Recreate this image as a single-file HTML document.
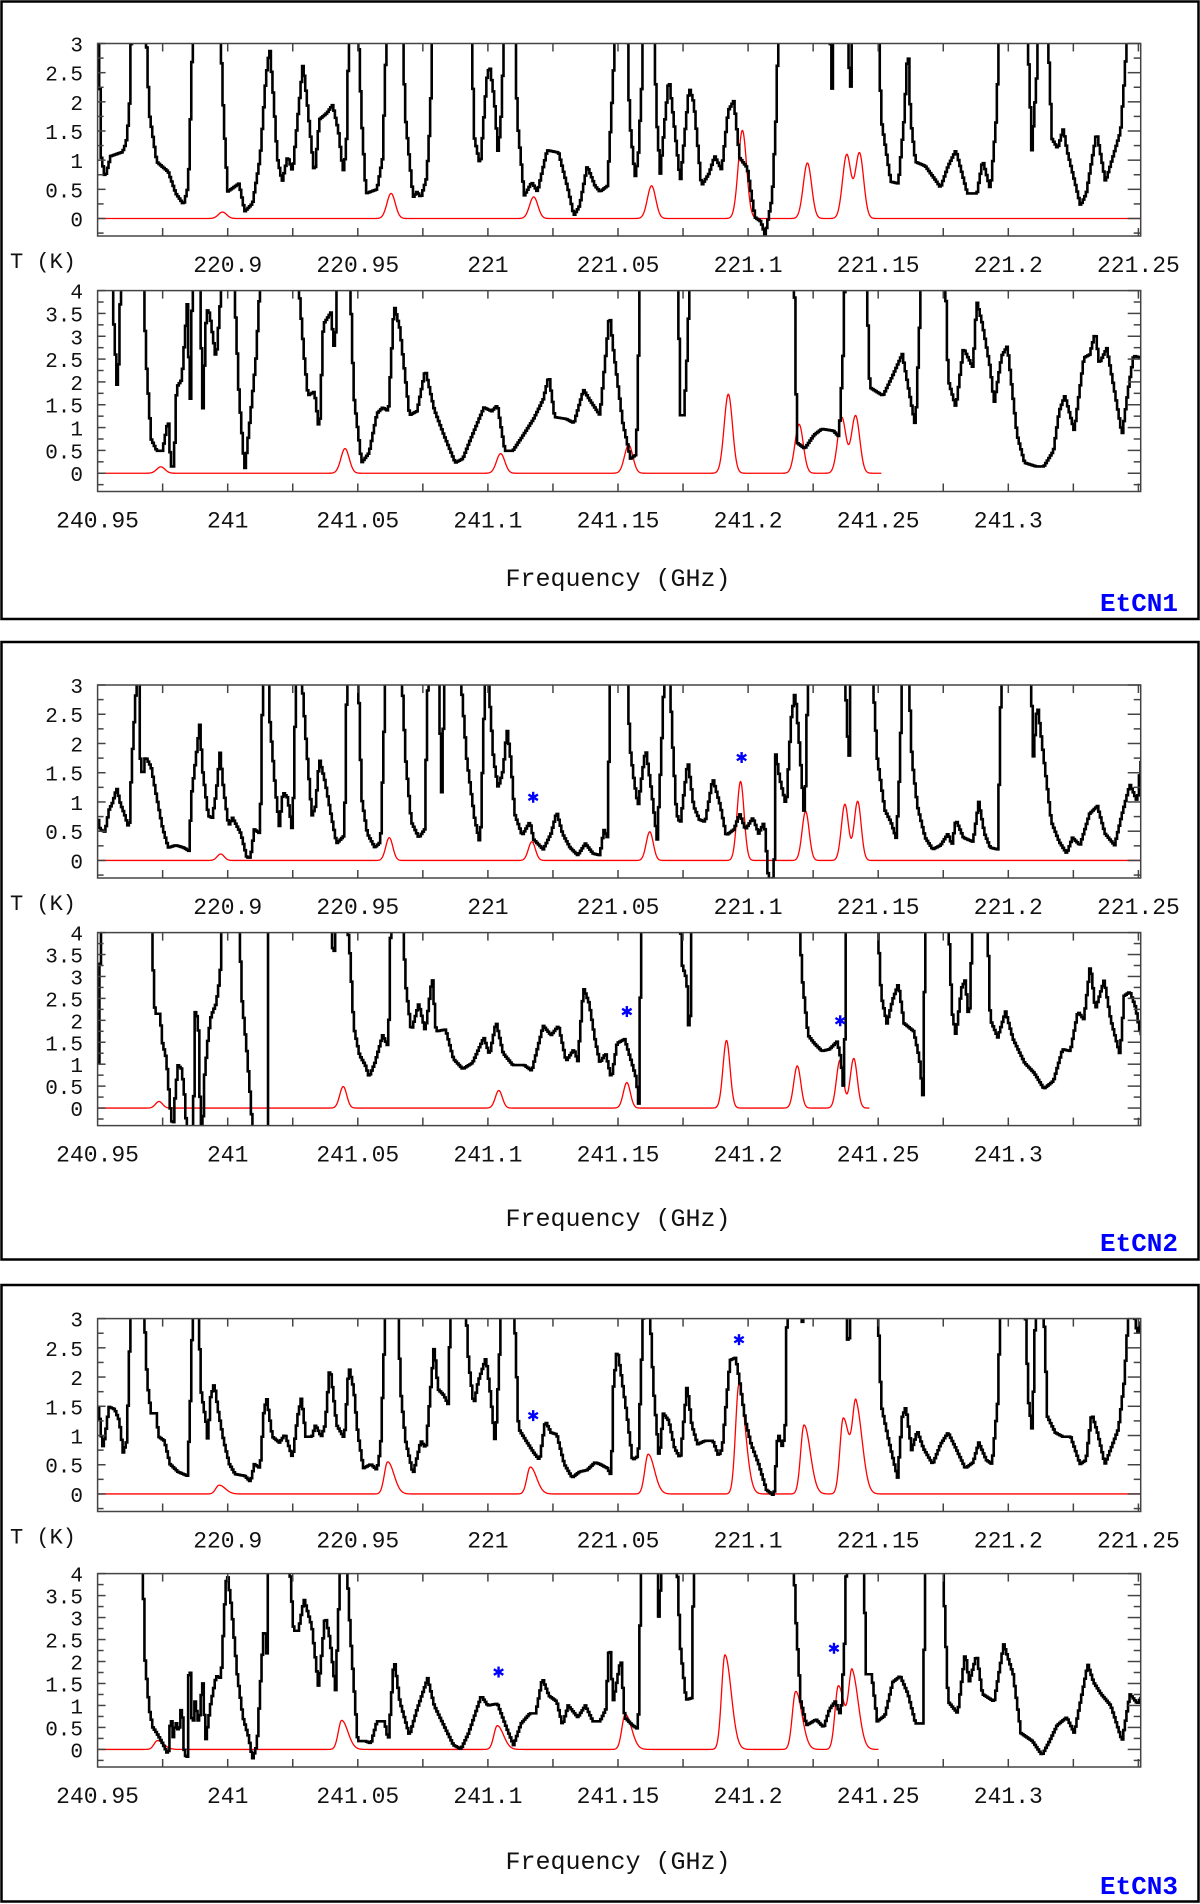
<!DOCTYPE html>
<html><head><meta charset="utf-8"><title>EtCN spectra</title>
<style>
html,body{margin:0;padding:0;background:#fff;}
svg{display:block;}
text{font-family:"Liberation Mono",monospace;}
</style></head>
<body>
<svg id="chart" width="1200" height="1904" viewBox="0 0 1200 1904" xmlns="http://www.w3.org/2000/svg"></svg>
<script>
// ---------- data: frequency offsets in MHz from axis start (220850 MHz / 240950 MHz), T in K ----------
const etcn1LowFreq = [
0,0.4,1.5,2.9,5.1,9.6,11,12.2,13.2,18.4,
19.9,22.8,27.2,30.1,33.1,34.9,35.7,36.8,47,48.5,
50,54.4,56.6,59.6,62.5,64.7,66.2,67.6,69.1,71,
73.1,75,76.9,79,80.9,83.4,85.3,88.2,90.4,92.6,
94.4,95.6,96.8,100,101.5,103.2,107.4,109.6,111.3,116.9,
118.4,121.3,122.8,124.3,126.5,127.9,128.9,143.4,144.9,147.1,
149.6,150.7,152.5,154,155.4,156.3,160.3,161.3,164,166.9,
169.1,172.8,177.2,180.9,183.1,185.3,188.2,191.2,193.1,196,
198.2,199,203.4,204.5,206.6,207.8,209.3,210,213.7,214.9,
216.3,218.1,219.6,221.4,224,227.4,229.2,232.1,235,237.2,
239.9,242.4,244.6,246.8,249.7,252.7,254.9,256.6,259.3,261.1,
261.6,281.3,282.4,283.1,288.4,289.3,290.1,300.1,301.2,304.9,
307.8,310,311.5,312.5,314.4,318.1,322.5,324,326.9,329.9,
334.3,338,340.2,343.2,345.4,346.9,357.2,359.1,360.9,361.6,
365,366.8,369,371.2,372.6,375.6,377.8,380,384,387.4,
391,393.2,394.7,396.2,401];
const etcn1LowT = [
3.5,3.2,1.04,0.7,1.07,1.14,1.3,1.8,3.5,3.5,
1.8,0.97,0.8,0.43,0.24,0.56,1.7,3.5,3.5,1.7,
0.46,0.6,0.12,0.26,1.04,2.4,2.93,2.1,1.04,0.63,
1.07,0.8,1.7,2.66,1.85,0.73,1.7,1.81,1.95,1.5,
0.8,1.17,3.5,3.5,1.7,0.43,0.5,1.04,3.5,3.5,
1.7,0.36,0.46,0.36,0.7,1.7,3.5,3.5,1.37,0.9,
2.39,2.63,2.05,1.1,1.92,3.5,3.5,1.7,0.39,0.62,
0.46,1.17,1.13,0.49,0.05,0.22,0.9,0.56,0.46,0.56,
2.4,3.5,3.5,1.7,0.7,1.04,2.4,3.5,3.5,1.7,
0.77,1.7,2.42,1.7,0.63,2.25,1.98,0.56,0.77,1.07,
0.83,1.85,2.02,1.04,0.87,0.02,-0.05,-0.28,0.36,2.03,
3.5,3.5,2.1,3.5,3.5,1.85,3.5,3.5,1.7,0.63,
0.6,1.7,3.0,1.7,0.97,0.9,0.63,0.53,0.9,1.17,
0.43,0.43,1.0,0.49,1.7,3.5,3.5,1.17,2.4,3.5,
3.5,1.37,1.2,1.54,1.17,0.63,0.22,0.43,1.48,0.63,
1.17,1.5,2.4,3.5,3.5];

const etcn1HighFreq = [
0,6.0,6.3,7.6,8.5,9,17.8,18.4,20.6,22.8,
25,27.2,28.2,29.4,30.4,32.4,34.6,35.6,36.5,39.4,
40.4,41.9,43.1,45.6,47.8,52.5,54.4,56.6,58.8,61,
62.5,77.2,79.4,80.9,83.4,85.3,86.8,89.7,91.2,92.2,
97.1,98.5,101.5,104.4,107.4,109.6,111.8,114,116.2,119.9,
122.8,126,129.4,133.1,137.5,140.4,143.4,148.5,151.5,153.7,
156.6,159.6,163.2,167.6,171.3,173.5,175.7,180.1,183.1,186.8,
189,193.1,195.3,196.8,198.2,201.9,204.9,207.1,208.5,223.2,
223.9,225.4,226.6,227.6,267.8,268.8,271.8,275.4,278.4,282.8,
285,286.5,287.2,295.6,296.8,299,301.9,305.6,309.3,312.2,
314.4,316.6,325.9,326.9,329.9,332.8,336.5,337.9,340.1,343.1,
344.6,347.5,349.7,353.4,356.3,360.7,363.7,367.4,369.6,371.8,
375.4,379.1,381.3,383.5,385,387.9,390.9,393.8,396,398.2,
401];
const etcn1HighT = [
5,5,3.26,1.83,2.83,5,5,2.74,0.75,0.49,
0.49,1.19,0.15,0.15,1.88,2.05,3.78,1.31,4.2,4.2,
1.27,3.6,3.5,2.48,4.2,4.2,1.7,0.06,1.27,2.57,
4.2,4.2,2.57,1.7,1.79,0.88,3.26,3.52,2.61,4.2,
4.2,1.7,0.23,0.45,1.31,1.44,1.36,3.69,3.17,1.27,
1.36,2.27,1.4,0.84,0.23,0.32,0.75,1.44,1.36,1.49,
0.49,0.49,0.8,1.19,1.62,2.14,1.23,1.19,1.1,1.83,
1.62,1.27,2.57,3.52,2.74,1.1,0.32,0.41,4.2,4.2,
1.27,1.27,2.57,4.2,4.2,0.67,0.54,0.84,0.97,0.93,
0.8,2.57,4.2,4.2,1.88,1.8,1.7,2.14,2.61,1.7,
1.01,4.2,4.2,2.05,1.44,2.74,2.31,3.78,3.26,2.31,
1.53,2.57,2.79,0.84,0.23,0.15,0.15,0.49,1.36,1.7,
0.93,2.53,2.6,3.09,2.4,2.74,1.79,0.84,1.79,2.57,
2.53];

const etcn2LowFreq = [
0,1.0,2.9,4.4,5.9,7.4,8.8,10.3,12.2,13.2,
14.7,15.7,16.5,17.4,18.4,20.6,22.8,25,27.2,30.1,
33.1,35.3,36,37.8,39.3,40.4,42.6,44.1,45.6,47.1,
48.5,50.4,51.9,55.1,57.4,58.8,60.3,62.5,63.7,65.4,
66.2,68.4,69.9,71.3,73.1,75,76.5,77.9,80.1,82.4,
83.8,85.3,87.5,89.7,91.9,94.9,96,100,101.5,103.7,
106.6,108.8,111,116.6,118.4,120.6,123.5,125.7,127.2,130.9,
132.4,133.4,139,141.9,144.9,147.1,148.5,149.6,150.7,152.2,
154,155.9,157.4,158.8,160.3,163.2,166.2,167.6,171.3,174.3,
176.5,178.7,181.6,184.6,187.5,190.4,193.1,194.6,196,197.2,
203.4,204.6,206.3,207.8,209.3,210.7,212.9,215.1,216.6,218.1,
219.6,221,222.5,224,226.9,229.1,231.3,233.5,236.5,239.4,
241.6,244.6,246.8,249,251.9,254.1,256.3,257.8,258.5,260,
260.7,262.2,264.7,266.6,268.1,269.6,271.8,273.2,287.2,288,
289,289.4,297.5,299.7,302.6,304.9,307.1,308.5,309.3,311.5,
313,315.1,318.1,321,324,326.9,328.4,329.9,332.8,336.5,
338.7,340.9,343.1,346,347.5,358.5,359.7,361.2,363.7,366.6,
369.6,372.5,374.7,377.6,381.3,384.3,387.2,390.9,393.8,396.8,
399.7,400.9];
const etcn2LowT = [
0.76,0.53,0.49,0.86,1.0,1.24,0.97,0.8,0.53,1.68,
2.82,3.5,1.74,1.4,1.78,1.6,1.07,0.56,0.22,0.26,
0.22,0.16,1.07,1.74,2.32,1.54,0.76,0.73,1.14,1.84,
1.2,0.59,0.73,0.46,0.05,0.05,0.53,0.46,3.5,3.5,
2.42,1.2,0.59,1.17,1.07,0.46,3.5,3.5,2.08,0.76,
0.93,1.74,1.34,0.8,0.29,0.43,3.5,3.5,1.07,0.46,
0.22,0.32,3.5,3.5,1.74,0.66,0.39,0.53,3.5,3.5,
1.0,3.5,3.5,1.74,0.73,0.26,2.42,3.5,2.76,1.74,
1.24,1.54,2.25,1.74,0.8,0.43,0.66,0.36,0.19,0.46,
0.83,0.46,0.22,0.09,0.29,0.12,0.09,0.53,0.39,3.5,
3.5,1.95,1.34,0.93,1.47,1.91,1.2,0.36,1.74,3.5,
3.5,2.01,0.8,0.63,1.71,0.93,0.7,0.66,1.4,0.93,
0.43,0.53,0.8,0.53,0.73,0.46,0.66,-0.28,-0.35,-0.28,
1.81,1.4,0.93,2.42,2.89,2.08,0.66,3.5,3.5,2.28,
1.74,3.5,3.5,1.74,0.86,0.66,0.36,1.74,3.5,3.5,
1.74,0.93,0.39,0.19,0.26,0.46,0.26,0.7,0.39,0.32,
1.0,0.46,0.22,0.19,3.5,3.5,1.78,2.69,1.74,0.66,
0.32,0.12,0.39,0.26,0.8,0.93,0.46,0.26,0.8,1.3,
1.0,1.68];

const etcn2HighFreq = [
0.1,0.7,1.5,20.6,21.3,22.1,24,25,26.5,27.9,
29,29.9,30.9,32.4,33.4,34.3,36.8,37.5,38.7,39.7,
40.4,41.2,42.6,43.7,45.6,47.1,48.1,54.4,55.4,57.4,
58.8,59.6,65.4,65.7,89.7,90.7,91.9,95.6,97.1,98.5,
100.7,102.9,104.4,106.6,109.6,111.8,112.8,117.2,118.4,120.6,
123.5,126,128.7,130.1,133.8,136.8,140.4,144.1,148.5,150.7,
153.2,155.9,159.6,164,166.9,171.3,174.3,177.2,180.1,183.1,
184.6,186.8,189,191.2,193.1,195.3,197.5,199.7,202.6,204.9,
207.1,208.1,209,223.9,224.6,226.5,227.6,228.4,269.5,270.9,
273.1,275.4,278.4,281.3,284.3,285.7,286.9,287.9,299.6,301.2,
303.4,305.6,307.8,310,313.7,315.9,317.4,318.1,326.9,328.4,
329.9,332.1,333.5,335,336.5,341.9,343.1,346,349,351.9,
356.3,360,363.7,367.4,370.9,373.9,376.8,379.1,381.6,383.5,
386.9,389.4,393,394.6,396.8,399,400.9];
const etcn2HighT = [
-0.5,2.56,4.5,4.5,3.28,2.15,2.15,1.48,1.12,0.04,
-0.5,0.31,0.98,0.89,0.31,-0.5,-0.5,2.2,2.02,-0.5,
-0.5,0.76,1.66,2.11,2.38,3.0,4.5,4.5,2.56,1.3,
0.22,-0.5,-0.5,4.5,4.5,3.28,4.5,4.5,3.46,1.84,
1.21,0.98,0.71,1.03,1.66,1.39,4.5,4.5,2.83,1.75,
2.38,1.75,3.0,1.75,1.79,1.12,0.89,1.03,1.61,1.21,
1.97,1.25,0.98,0.98,0.85,1.88,1.66,1.88,1.07,1.34,
1.07,2.74,2.38,1.57,1.03,1.25,0.67,1.48,1.57,1.12,
0.67,0.04,4.5,4.5,3.28,2.92,1.3,4.5,4.5,2.92,
1.66,1.48,1.3,1.34,1.52,1.12,0.31,4.5,4.5,2.56,
1.93,2.47,2.83,1.93,1.75,1.12,0.17,4.5,4.5,2.2,
1.66,2.74,2.92,1.93,4.5,4.5,2.02,1.61,2.2,1.57,
1.03,0.8,0.44,0.62,1.34,1.3,2.2,2.02,3.28,2.24,
2.92,2.02,1.21,2.56,2.65,2.29,1.66];

const etcn3LowFreq = [
0,1,1.9,2.9,4.4,6.6,8.4,9.9,11.3,12.2,
12.9,17.6,19.1,20.6,22.5,23.5,25.7,27.9,30.9,34.6,
35.7,36.8,38.7,39.7,41.9,42.6,43.1,44.9,46.3,48.5,
50.7,52.9,56.6,58.8,60.3,62.5,64,65.1,67.2,69.9,
72.1,75,76.9,78.4,80.1,82.4,83.8,86,87.5,89.3,
90.4,91.9,94.9,96.6,98.5,100,102.2,105.1,107.4,108.8,
110,111,115.1,116.6,118.4,121.3,124.3,126.2,127.9,129.4,
130.9,133.1,134.9,135.7,141.2,142.6,144.6,146.3,149.3,151,
152.9,154.4,155.4,159.9,161.8,164.7,167.6,169.9,172.1,174.3,
176.5,179.4,182.4,185.3,188.2,191.2,193.1,196,197.5,198.2,
199.7,201.2,203.4,205.6,207.8,209.6,210.4,211.9,213.7,215.9,
217.4,219.6,221.8,224,226.6,228.4,230.6,233.5,236.5,238.7,
240.1,243.1,245.3,246.8,249,251.2,254.1,257.1,260,261.5,
263.4,264.4,265.1,270.3,270.7,271.5,287.2,288.7,289.4,299.7,
301.2,304.1,307.5,309.3,310.7,312.9,315.1,317.4,321,324,
326.9,329.9,333.5,336.5,338.7,341.6,343.8,346,347.2,356.3,
357.8,359.3,360.7,363.4,365.1,368.1,371,374,377.6,379.9,
382.1,384.3,387.2,390.1,392.4,394.6,396.8,399.7,400.9];
const etcn3LowT = [
1.59,1.25,0.78,0.98,1.49,1.45,1.25,0.71,0.91,2.26,
3.5,3.5,1.92,1.38,1.38,0.98,0.91,0.51,0.38,0.31,
1.59,3.5,3.5,1.79,1.18,0.78,1.59,1.89,1.45,0.91,
0.51,0.34,0.31,0.21,0.51,0.44,1.45,1.62,0.98,0.88,
1.02,0.61,1.32,1.65,0.98,0.98,1.18,0.98,1.18,2.19,
1.79,1.18,0.95,2.19,1.79,1.05,0.44,0.51,0.41,0.78,
2.26,3.5,3.5,1.72,0.91,0.34,0.91,0.78,1.72,2.53,
1.79,1.69,1.52,3.5,3.5,2.26,1.52,1.92,2.33,1.72,
0.85,2.26,3.5,3.5,1.12,0.91,0.71,0.58,1.25,1.05,
1.02,0.51,0.28,0.38,0.41,0.54,0.51,0.44,0.31,1.79,
2.49,2.06,1.38,0.58,0.65,2.93,3.5,3.5,1.79,0.58,
1.38,1.25,0.78,0.61,1.86,1.18,0.85,0.91,0.91,0.65,
0.78,2.29,2.33,1.92,1.25,0.85,0.51,0.07,-0.03,1.05,
0.78,1.22,3.5,3.5,2.76,3.5,3.5,2.33,3.5,3.5,
1.52,0.91,0.28,1.32,1.49,0.75,1.08,0.78,0.51,0.85,
1.05,0.78,0.44,0.54,0.88,0.58,0.51,1.59,3.5,3.5,
1.59,1.05,3.5,3.5,1.32,1.05,0.98,0.98,0.51,0.58,
1.38,1.05,0.51,0.85,1.12,1.92,3.5,2.73,2.93];

const etcn3HighFreq = [
0,17.2,18.1,19.9,21.3,22.8,25,27.2,28.2,29.1,
30.1,31.3,32.4,33.4,34.6,35.3,36.5,37.5,39,40.4,
41.6,43.4,45.6,47.5,49.3,50,51.5,53.7,55.9,58.1,
59.6,61.3,63.2,64.3,65,65.7,73.5,75.4,77.2,79.4,
82.4,85,87.5,89.3,91.5,92.6,93.4,95.6,97.1,100,
102.9,105.1,107.4,110.3,111.8,114,116.2,119.9,122.8,126.9,
129.4,133.8,136.8,139.7,142.6,147.5,150,153.7,157.4,159.9,
162.8,166.2,168.4,171,173.5,176.5,178.7,180.9,184.6,187.5,
190.4,193.1,195.3,196.8,198.2,201.2,202.6,205.6,207.8,209,
215.2,215.9,216.6,222.5,224,226.2,228.4,229.2,267.4,268.4,
270.3,272.5,276.2,279.1,281.3,283.5,285.7,287.2,287.9,294.5,
295.3,297.5,299.7,302.6,305.6,308.5,311.5,314.4,317.4,318.1,
324.7,326.9,330.6,333.5,335,337.9,340.1,344.6,348.3,351.9,
354.9,359.3,363,365.9,368.8,372.5,375.4,380.6,382.8,385.7,
389.4,390.9,393.8,396.8,399.7,400.9];
const etcn3HighT = [
5,5,2.16,0.91,0.5,0.37,0.14,-0.13,0.82,0.28,
0.64,0.37,1.09,-0.13,-0.17,2.43,0.37,1.09,0.55,1.62,
0.19,1.0,1.67,1.62,3.78,3.96,3.24,1.71,0.73,0.28,
-0.22,0.1,2.07,2.97,1.8,4.5,4.5,2.7,2.7,3.42,
2.79,1.4,3.06,2.52,1.35,3.0,4.5,4.5,2.7,0.19,
0.19,0.14,0.64,0.64,0.19,2.07,1.09,0.32,0.91,1.62,
1.0,0.46,0.1,0.01,0.37,1.22,1.0,1.04,0.46,0.1,
0.59,0.82,0.82,1.62,1.22,1.09,0.55,1.0,0.73,1.0,
0.64,0.64,0.91,2.52,1.09,2.07,0.73,0.55,0.46,4.5,
4.5,2.43,4.5,4.5,2.34,1.13,1.17,4.5,4.5,2.97,
1.09,0.55,0.68,0.5,0.91,1.09,0.77,2.52,4.5,4.5,
1.71,1.71,0.64,0.77,1.53,1.67,1.26,0.59,0.59,4.5,
4.5,1.09,0.82,2.21,1.53,2.16,1.26,1.09,2.39,1.71,
0.37,0.19,-0.13,0.19,0.55,0.73,0.37,1.94,1.53,1.26,
1.0,0.73,0.19,1.26,1.04,1.17];

// model line catalogue (MHz offsets from axis start) and fitted peak intensities (K)
const lineLowMHz  = [48, 112.8, 167.6, 212.9, 247.8, 272.8, 287.9, 292.8];
const lineHighMHz = [24.3, 95.1, 154.9, 204.1, 242.4, 269.6, 286, 291.3];
const etcn1LowPeak  = [0.11, 0.43, 0.37, 0.56, 1.51, 0.95, 1.09, 1.12];
const etcn1HighPeak = [0.14, 0.54, 0.43, 0.62, 1.73, 1.07, 1.22, 1.26];
const etcn2LowPeak  = [0.11, 0.39, 0.32, 0.49, 1.35, 0.84, 0.96, 1.01];
const etcn2HighPeak = [0.15, 0.49, 0.40, 0.58, 1.54, 0.96, 1.09, 1.13];
const etcn3LowPeak  = [0.15, 0.55, 0.46, 0.68, 1.88, 1.18, 1.30, 1.45];
const etcn3HighPeak = [0.20, 0.66, 0.54, 0.80, 2.15, 1.32, 1.45, 1.70];

// marked (*) features: [MHz offset, T]
const etcn2LowStarF = [167.4, 247.5];  const etcn2LowStarT = [1.08, 1.76];
const etcn2HighStarF = [203.4, 285.4]; const etcn2HighStarT = [2.2, 1.99];
const etcn3LowStarF = [167.4, 246.5];  const etcn3LowStarT = [1.34, 2.64];
const etcn3HighStarF = [154.1, 283];   const etcn3HighStarT = [1.76, 2.3];

const xTickLowLabels  = ["220.9","220.95","221","221.05","221.1","221.15","221.2","221.25"];
const xTickHighLabels = ["240.95","241","241.05","241.1","241.15","241.2","241.25","241.3"];

// ---------- drawing ----------
const NS = "http://www.w3.org/2000/svg";
const svg = document.getElementById("chart");
function el(tag, attrs, parent){
  const e = document.createElementNS(NS, tag);
  for (const k in attrs) e.setAttribute(k, attrs[k]);
  (parent || svg).appendChild(e);
  return e;
}
let clipId = 0;
const CHAN = 0.6; // display channel width (MHz)

function sampleAt(freq, T, m){
  if (m <= freq[0]) return T[0];
  for (let i = 1; i < freq.length; i++) {
    if (m <= freq[i]) {
      const a = (m - freq[i-1]) / (freq[i] - freq[i-1] || 1);
      return T[i-1] + a * (T[i] - T[i-1]);
    }
  }
  return T[T.length - 1];
}

function drawAxes(o){
  const spanMHz = (o.x1 - o.x0) / 130.1 * 50;
  const xs = m => o.x0 + m / spanMHz * (o.x1 - o.x0);
  const ys = t => o.bottom - (t - o.tmin) / (o.tmax - o.tmin) * (o.bottom - o.top);
  const g = el("g", {});
  
  
  const cid = "clip" + (clipId++);
  const cp = el("clipPath", {id: cid}, g);
  el("rect", {x: o.x0, y: o.top, width: o.x1 - o.x0, height: o.bottom - o.top}, cp);

  // model (red)
  const mpts = [];
  for (let m = 0; m <= o.modelEndMHz + 1e-6; m += 0.1) {
    let v = 0;
    for (let i = 0; i < o.centers.length; i++) {
      const d = m - (o.centers[i] + o.shift);
      const s = d < 0 ? o.sigL : o.sigR;
      v += o.peaks[i] * Math.exp(-d * d / (2 * s * s));
    }
    mpts.push(xs(m).toFixed(2) + "," + ys(v).toFixed(2));
  }
  const model = el("polyline", {points: mpts.join(" "), fill: "none", stroke: "#ff0000", "stroke-width": 1.3, "clip-path": "url(#" + cid + ")"}, g);
  
  

  // observed (black) as histogram steps
  const fEnd = o.freq[o.freq.length - 1];
  const opts = [];
  let prevY = null;
  for (let m = o.freq[0]; m <= fEnd + 1e-6; m += CHAN) {
    const y = ys(sampleAt(o.freq, o.T, m + CHAN / 2));
    const xa = xs(m), xb = xs(Math.min(m + CHAN, fEnd));
    if (prevY !== null) opts.push(xa.toFixed(2) + "," + prevY.toFixed(2));
    opts.push(xa.toFixed(2) + "," + y.toFixed(2));
    opts.push(xb.toFixed(2) + "," + y.toFixed(2));
    prevY = y;
  }
  const obs = el("polyline", {points: opts.join(" "), fill: "none", stroke: "#000", "stroke-width": 2.6, "stroke-linejoin": "miter", "clip-path": "url(#" + cid + ")"}, g);
  
  

  // stars
  o.starF.forEach((f, i) => {
    const cx = xs(f), cy = ys(o.starT[i]);
    const sg = el("g", {stroke: "#0000ff", "stroke-width": 2.4}, g);
    
    
    [90, 30, 150].forEach(a => {
      const r = a * Math.PI / 180, L = 5.5;
      el("line", {x1: cx - L * Math.cos(r), y1: cy - L * Math.sin(r), x2: cx + L * Math.cos(r), y2: cy + L * Math.sin(r)}, sg);
    });
  });

  // frame
  const fr = el("rect", {x: o.x0, y: o.top, width: o.x1 - o.x0, height: o.bottom - o.top, fill: "none", stroke: "#444", "stroke-width": 1.5}, g);
  
  

  for (let m = 25; m < spanMHz; m += 25) {
    const x = xs(m);
    el("line", {x1: x, y1: o.bottom, x2: x, y2: o.bottom - 8, stroke: "#444", "stroke-width": 1.5}, g);
    el("line", {x1: x, y1: o.top, x2: x, y2: o.top + 8, stroke: "#444", "stroke-width": 1.5}, g);
  }
  o.labels.forEach((lab, i) => {
    const t = el("text", {x: xs(o.firstLabelMHz + 50 * i), y: o.bottom + 36, "font-size": 23, "text-anchor": "middle", fill: "#111"}, g);
    t.textContent = lab;
    
    
  });
  for (let k = Math.ceil(o.tmin / 0.25); k * 0.25 <= o.tmax + 1e-9; k++) {
    const tv = k * 0.25, y = ys(tv);
    const major = k % 2 === 0;
    el("line", {x1: o.x0, y1: y, x2: o.x0 + (major ? 8 : 6), y2: y, stroke: "#444", "stroke-width": 1.5}, g);
    el("line", {x1: o.x1, y1: y, x2: o.x1 - (major ? 13 : 7), y2: y, stroke: "#444", "stroke-width": 1.5}, g);
    if (major && tv >= 0) {
      const t = el("text", {x: 83, y: y + 8, "font-size": 21, "text-anchor": "end", fill: "#111"}, g);
      t.textContent = String(Math.round(tv * 10) / 10);
      
      
    }
  }
}

const panels = [
  {top: 0, box: [1.5, 1.5, 1197, 617.5], lowAx: [43.5, 236], highAx: [290.6, 491.5], label: "EtCN1",
   lowF: etcn1LowFreq, lowT: etcn1LowT, highF: etcn1HighFreq, highT: etcn1HighT,
   lowP: etcn1LowPeak, highP: etcn1HighPeak, sigL: 1.6, sigR: 1.6, shift: 0, highEnd: 301.2,
   lsF: [], lsT: [], hsF: [], hsT: []},
  {top: 640, box: [1.5, 642, 1197, 617.5], lowAx: [685, 878], highAx: [932.6, 1125.6], label: "EtCN2",
   lowF: etcn2LowFreq, lowT: etcn2LowT, highF: etcn2HighFreq, highT: etcn2HighT,
   lowP: etcn2LowPeak, highP: etcn2HighPeak, sigL: 1.35, sigR: 1.35, shift: -0.7, highEnd: 296.6,
   lsF: etcn2LowStarF, lsT: etcn2LowStarT, hsF: etcn2HighStarF, hsT: etcn2HighStarT},
  {top: 1283, box: [1.5, 1285, 1197, 616.5], lowAx: [1318.6, 1511.5], highAx: [1573.6, 1767], label: "EtCN3",
   lowF: etcn3LowFreq, lowT: etcn3LowT, highF: etcn3HighFreq, highT: etcn3HighT,
   lowP: etcn3LowPeak, highP: etcn3HighPeak, sigL: 1.3, sigR: 2.4, shift: -1.3, highEnd: 300.1,
   lsF: etcn3LowStarF, lsT: etcn3LowStarT, hsF: etcn3HighStarF, hsT: etcn3HighStarT}
];

panels.forEach((p, idx) => {
  const box = el("rect", {x: p.box[0], y: p.box[1], width: p.box[2], height: p.box[3], fill: "none", stroke: "#000", "stroke-width": 2.5});
  
  
  drawAxes({x0: 97.6, x1: 1140.7, top: p.lowAx[0], bottom: p.lowAx[1], tmin: -0.3, tmax: 3,
    freq: p.lowF, T: p.lowT, peaks: p.lowP, centers: lineLowMHz, modelEndMHz: 401,
    sigL: p.sigL, sigR: p.sigR, shift: p.shift, starF: p.lsF, starT: p.lsT,
    labels: xTickLowLabels, firstLabelMHz: 50, name: "spectrum-220ghz-" + (idx + 1)});
  drawAxes({x0: 97.6, x1: 1140.7, top: p.highAx[0], bottom: p.highAx[1], tmin: -0.4, tmax: 4,
    freq: p.highF, T: p.highT, peaks: p.highP, centers: lineHighMHz, modelEndMHz: p.highEnd,
    sigL: p.sigL, sigR: p.sigR, shift: p.shift, starF: p.hsF, starT: p.hsT,
    labels: xTickHighLabels, firstLabelMHz: 0, name: "spectrum-241ghz-" + (idx + 1)});
  const ty = el("text", {x: 10, y: p.lowAx[1] + 32, "font-size": 22, fill: "#111"});
  ty.textContent = "T (K)";
  
  
  const tx = el("text", {x: 618, y: p.top + 586, "font-size": 25, "text-anchor": "middle", fill: "#111"});
  tx.textContent = "Frequency (GHz)";
  
  
  const tl = el("text", {x: 1178, y: p.top + 611, "font-size": 26, "font-weight": "bold", "text-anchor": "end", fill: "#0000ff"});
  tl.textContent = p.label;
  
  
});
</script>
</body></html>
